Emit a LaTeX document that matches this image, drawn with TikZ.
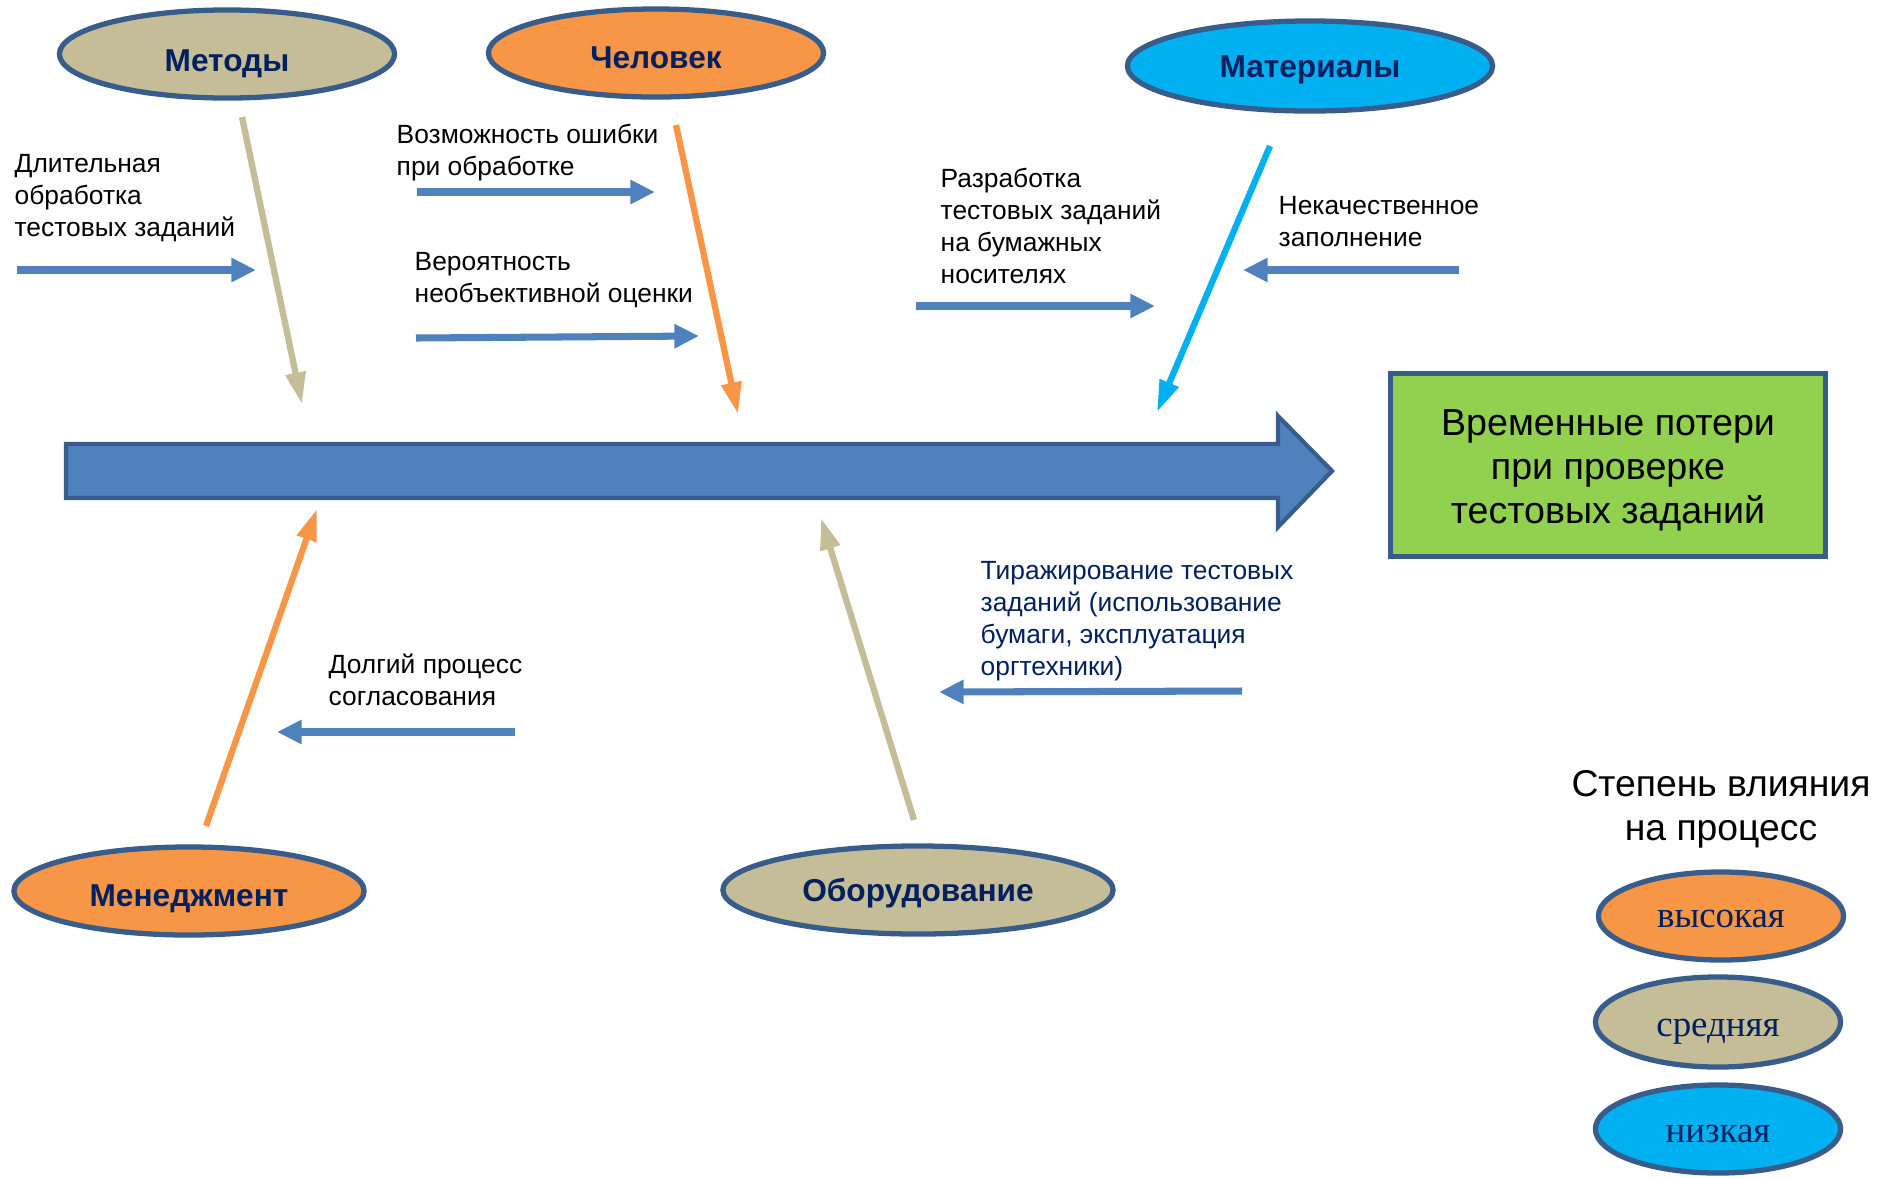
\documentclass[tikz,border=0pt]{standalone}
\usepackage{xcolor}
\usepackage{fontspec}
\setmainfont{Liberation Sans}
\newfontfamily\legendfont{Liberation Serif}
\usepackage{tikz}
\usetikzlibrary{shapes.geometric}
\usetikzlibrary{arrows.meta}
\definecolor{tanfill}{HTML}{C4BD97}
\definecolor{orangefill}{HTML}{F79646}
\definecolor{cyanfill}{HTML}{00B0F0}
\definecolor{rimblue}{HTML}{385D8A}
\definecolor{spineblue}{HTML}{4F81BD}
\definecolor{navytext}{HTML}{002060}
\definecolor{greenfill}{HTML}{92D050}

\begin{document}
\begin{tikzpicture}[x=0.01cm,y=-0.01cm,
	cause/.style={ellipse, draw=rimblue, line width=1.5pt, minimum width=3.35cm, minimum height=0.88cm, text=navytext, text height=8.8pt, text depth=0pt, font=\bfseries\fontsize{9}{10}\selectfont},
	level/.style={ellipse, draw=rimblue, line width=1.5pt, minimum width=2.45cm, minimum height=0.88cm, text=navytext, text height=7pt, text depth=0pt, font=\legendfont\fontsize{10.5}{12}\selectfont},
	note/.style={align=left, anchor=west, inner sep=0pt, font=\fontsize{7.5}{9.1}\selectfont},
	bone/.style={line width=1.8pt, -{Triangle[length=9pt,width=5.5pt]}},
	twig/.style={spineblue, line width=2pt, -{Triangle[length=7pt,width=6.5pt]}}]
			\useasboundingbox (0,0) rectangle (1890,1178);
			% Nodes
			\node[cause, fill=tanfill, text height=10pt] (methods) at (227,54) {Методы};
			\node[cause, fill=orangefill] (human) at (656,53) {Человек};
			\node[cause, fill=cyanfill, minimum width=3.65cm, minimum height=0.9cm, text height=6.8pt] (materials) at (1310,66) {Материалы};
			\node[cause, fill=orangefill, minimum width=3.5cm] (management) at (189,891) {Менеджмент};
			\node[cause, fill=tanfill, minimum width=3.9cm, text height=6.4pt] (equipment) at (918,890) {Оборудование};
			
			\node[draw=rimblue, line width=1.4pt, fill=greenfill, minimum width=4.34cm, minimum height=1.82cm] (loss) at (1608,465) {};
			\node[align=center, font=\fontsize{10.7}{12.5}\selectfont] (losstext) at (1608,470) {Временные потери\\при проверке\\тестовых заданий};
			
			% spine
			\filldraw[fill=spineblue, draw=rimblue, line width=1.2pt] (66,444) -- (1278,444) -- (1278,416) -- (1332,471) -- (1278,527) -- (1278,498) -- (66,498) -- cycle;
			
			% bones
			\coordinate (m1) at (242,117);
			\coordinate (m2) at (302,404);
			\coordinate (h1) at (676,125);
			\coordinate (h2) at (738,414);
			\coordinate (r1) at (1270,146);
			\coordinate (r2) at (1157,412);
			\coordinate (g1) at (206,826);
			\coordinate (g2) at (317,509);
			\coordinate (e1) at (914,820);
			\coordinate (e2) at (821,518);
			\draw[bone, tanfill] (m1) -- (m2);
			\draw[bone, orangefill] (h1) -- (h2);
			\draw[bone, cyanfill] (r1) -- (r2);
			\draw[bone, orangefill] (g1) -- (g2);
			\draw[bone, tanfill] (e1) -- (e2);
			
			% causes
			\node[note] (slow) at (14,198) {Длительная\\обработка\\тестовых заданий};
			\node[note] (error) at (396,153) {Возможность ошибки\\при обработке};
			\node[note] (bias) at (414,280) {Вероятность\\необъективной оценки};
			\node[note] (paper) at (940,226) {Разработка\\тестовых заданий\\на бумажных\\носителях};
			\node[note] (fill) at (1278,222) {Некачественное\\заполнение};
			\node[note, text=navytext] (copy) at (980,621) {Тиражирование тестовых\\заданий (использование\\бумаги, эксплуатация\\оргтехники)};
			\node[note] (approve) at (328,680) {Долгий процесс\\согласования};
			
			\coordinate (a1) at (17,270);
			\coordinate (a2) at (256,270);
			\coordinate (b1) at (417,192);
			\coordinate (b2) at (655,192);
			\coordinate (c1) at (416,338);
			\coordinate (c2) at (699,336);
			\coordinate (d1) at (916,306);
			\coordinate (d2) at (1155,306);
			\coordinate (f1) at (1459,270);
			\coordinate (f2) at (1243,270);
			\coordinate (k1) at (1242,691);
			\coordinate (k2) at (939,692);
			\coordinate (p1) at (515,732);
			\coordinate (p2) at (277,732);
			\draw[twig] (a1) -- (a2);
			\draw[twig] (b1) -- (b2);
			\draw[twig] (c1) -- (c2);
			\draw[twig] (d1) -- (d2);
			\draw[twig] (f1) -- (f2);
			\draw[twig] (k1) -- (k2);
			\draw[twig] (p1) -- (p2);
			
			% legend
			\node[align=center, font=\fontsize{10.6}{12.6}\selectfont] (legend) at (1721,809) {Степень влияния\\на процесс};
			\node[level, fill=orangefill, text height=6.5pt] (high) at (1721,916) {высокая};
			\node[level, fill=tanfill, minimum height=0.9cm, text height=8.5pt] (mid) at (1718,1022) {средняя};
			\node[level, fill=cyanfill, text height=7.5pt] (low) at (1718,1129) {низкая};
			
		\end{tikzpicture}
\end{document}
